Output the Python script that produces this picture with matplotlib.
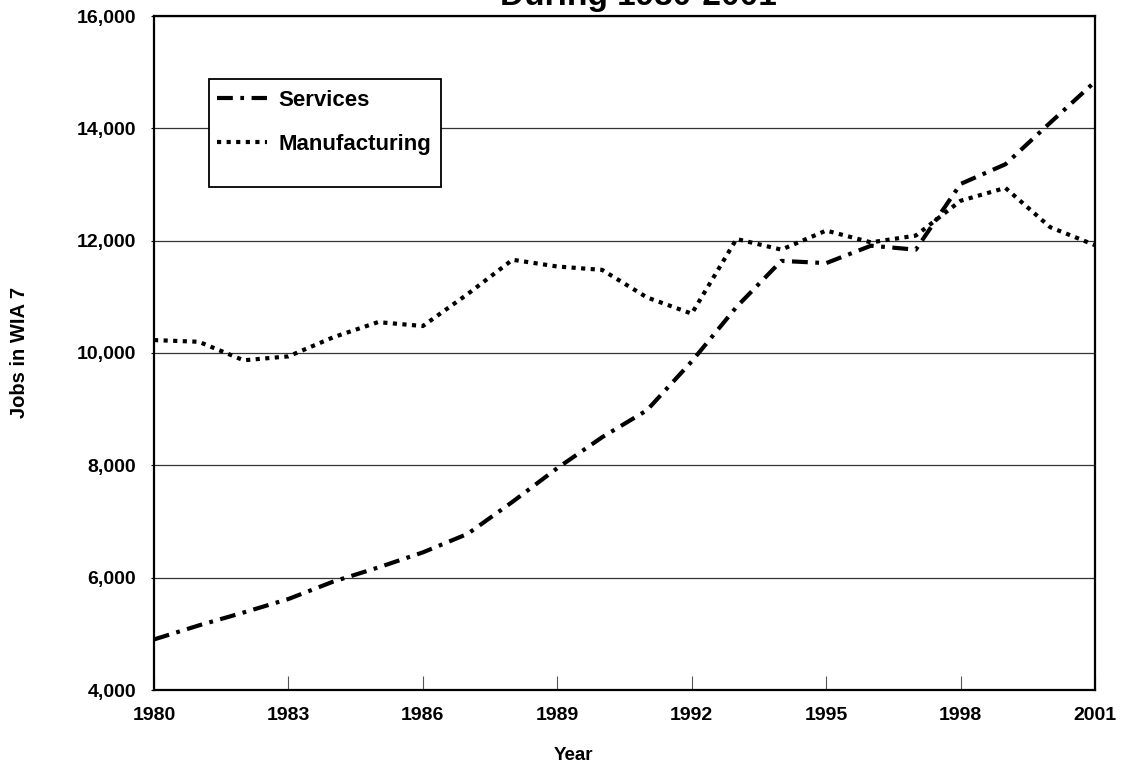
import matplotlib
matplotlib.use("Agg")
import matplotlib.pyplot as plt
from matplotlib.patches import Rectangle
from matplotlib.ticker import FuncFormatter

years = list(range(1980, 2002))
services = [4900, 5150, 5380, 5620, 5930, 6180, 6450, 6780, 7350, 7950,
            8500, 8980, 9850, 10820, 11640, 11600, 11910, 11840, 13010, 13360,
            14100, 14830]
manufacturing = [10230, 10200, 9870, 9940, 10280, 10550, 10480, 11050, 11660, 11540,
                 11480, 10990, 10700, 12030, 11840, 12180, 11970, 12090, 12710, 12940,
                 12240, 11920]
x_ticks = [1980, 1983, 1986, 1989, 1992, 1995, 1998, 2001]
y_ticks = [4000, 6000, 8000, 10000, 12000, 14000, 16000]

W, H = 1122, 768
plt.rcParams['font.family'] = ['Liberation Sans', 'DejaVu Sans']
plt.rcParams['font.weight'] = 'bold'

fig = plt.figure(figsize=(W / 100, H / 100), dpi=100)
L, R, T, B = 154, 1095, 16, 690
ax = fig.add_axes([L / W, 1 - B / H, (R - L) / W, (B - T) / H])

ax.plot(years, services, color='black', lw=3.0, solid_capstyle='butt',
        dash_capstyle='butt', linestyle=(0, (3.8, 1.8, 0.9, 1.8)), label='Services')
ax.plot(years, manufacturing, color='black', lw=3.0, dash_capstyle='butt',
        linestyle=(0, (1.0, 1.3)), label='Manufacturing')

ax.set_xlim(1980, 2001)
ax.set_ylim(4000, 16000)
ax.set_xticks(x_ticks)
ax.set_yticks(y_ticks)
ax.yaxis.set_major_formatter(FuncFormatter(lambda v, p: f"{int(v):,}"))
ax.grid(axis='y', color='#333333', lw=0.9)
ax.set_axisbelow(True)

ax.tick_params(axis='x', direction='in', length=10, width=0.8, color='#555555',
               pad=12, labelsize=14)
ax.tick_params(axis='y', direction='out', length=2, width=0.8, pad=11, labelsize=14)
for lab in ax.get_xticklabels() + ax.get_yticklabels():
    lab.set_fontweight('bold')
for s in ax.spines.values():
    s.set_linewidth(1.6)
    s.set_color('black')

# legend box
def ax_frac(px, py):
    return ((px - L) / (R - L), (B - py) / (B - T))

x0, y0 = ax_frac(209, 187)
x1, y1 = ax_frac(441, 79)
ax.add_patch(Rectangle((x0, y0), x1 - x0, y1 - y0, transform=ax.transAxes,
                       facecolor='white', edgecolor='black', lw=1.3, zorder=4))
lx, ly = ax_frac(197, 70)
leg = ax.legend(loc='upper left', bbox_to_anchor=(lx, ly), frameon=False,
                prop={'size': 16, 'weight': 'bold'}, handlelength=2.25,
                handletextpad=0.5, labelspacing=1.02, borderpad=0.4)
leg.set_zorder(5)

fig.text(638 / W, 1 - 5 / H, 'During 1980-2001', ha='center', va='baseline',
         fontsize=24, fontweight='bold')
fig.text(20 / W, 1 - 352 / H, 'Jobs in WIA 7', rotation=90, ha='center', va='center',
         fontsize=14.5, fontweight='bold')
fig.text(573 / W, 1 - 755 / H, 'Year', ha='center', va='center',
         fontsize=13.5, fontweight='bold')

fig.savefig('out.png', dpi=100)
